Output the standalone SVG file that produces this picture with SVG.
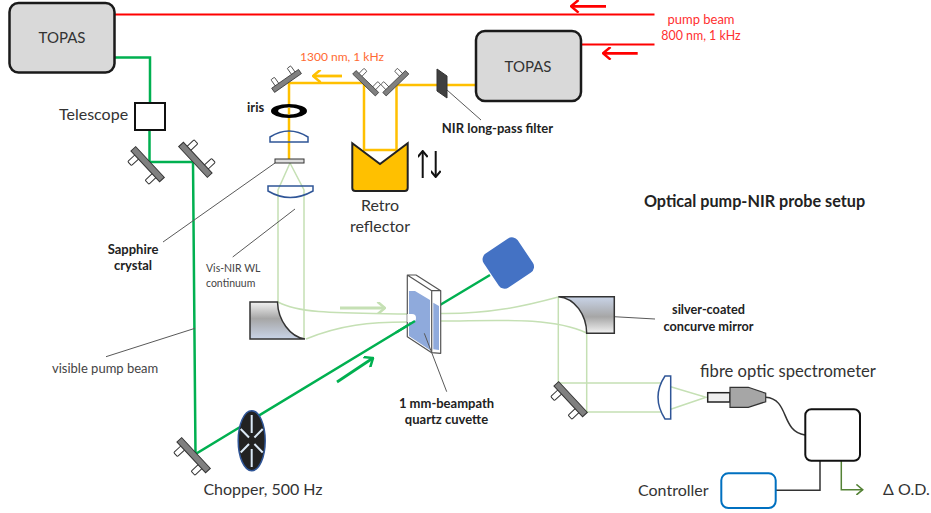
<svg xmlns="http://www.w3.org/2000/svg" width="931" height="513" viewBox="0 0 931 513">
<style>
text{font-family:"Lato","Open Sans","Liberation Sans",sans-serif;fill:#333}
.lg{font-size:16px}.b{font-size:13px;font-weight:700;fill:#222}.m{text-anchor:middle}
.n{font-size:10.5px;fill:#444}
.box{fill:#d9d9d9;stroke:#1a1a1a;stroke-width:2.5}
.beam{fill:none;stroke-linejoin:miter}
.red{stroke:#f00;stroke-width:2}.yel{stroke:#ffc000;stroke-width:2.5}.grn{stroke:#00b050;stroke-width:2.5}.wl{stroke:#c5e0b4;stroke-width:1.5}
.thick{stroke-width:2.8}
.lead{stroke:#595959;stroke-width:1;fill:none}
.lens{fill:none;stroke:#2f5597;stroke-width:1.5}
.wire{fill:none;stroke:#333;stroke-width:1.5}
.spoke{stroke:#dbe9f6;stroke-width:2}
.mb{fill:#808080;stroke:#333;stroke-width:1}.ml{fill:#fff;stroke:#333;stroke-width:1}
</style>
<defs>
<g id="mirror">
<rect class="ml" x="-15.5" y="5" width="5.5" height="11" rx="1"/>
<rect class="ml" x="10" y="5" width="5.5" height="11" rx="1"/>
<rect class="mb" x="-21" y="0" width="42" height="6.5"/>
</g>
<marker id="hR" viewBox="0 0 10 10" refX="9" refY="5" markerWidth="4.5" markerHeight="4.5" orient="auto" markerUnits="strokeWidth"><path d="M3,0L9,5L3,10" fill="none" stroke="#f00" stroke-width="2"/></marker>
<marker id="hY" viewBox="0 0 10 10" refX="9" refY="5" markerWidth="4.5" markerHeight="4.5" orient="auto" markerUnits="strokeWidth"><path d="M3,0L9,5L3,10" fill="none" stroke="#ffc000" stroke-width="2"/></marker>
<marker id="hL" viewBox="0 0 10 10" refX="9" refY="5" markerWidth="4.5" markerHeight="4.5" orient="auto" markerUnits="strokeWidth"><path d="M3,0L9,5L3,10" fill="none" stroke="#c5e0b4" stroke-width="2"/></marker>
<marker id="hG" viewBox="0 0 10 10" refX="9" refY="5" markerWidth="4.5" markerHeight="4.5" orient="auto" markerUnits="strokeWidth"><path d="M3,0L9,5L3,10" fill="none" stroke="#00b050" stroke-width="2"/></marker>
<marker id="hK" viewBox="0 0 10 10" refX="9" refY="5" markerWidth="5" markerHeight="5" orient="auto" markerUnits="strokeWidth"><path d="M3,0L9,5L3,10" fill="none" stroke="#111" stroke-width="2"/></marker>
<marker id="hO" viewBox="0 0 10 10" refX="9" refY="5" markerWidth="7" markerHeight="7" orient="auto" markerUnits="strokeWidth"><path d="M3,0L9,5L3,10" fill="none" stroke="#548235" stroke-width="1.5"/></marker>
<linearGradient id="gL" x1="0" y1="0" x2="0" y2="1"><stop offset="0" stop-color="#f2f2f2"/><stop offset=".45" stop-color="#a6a6a6"/><stop offset="1" stop-color="#c9d4e8"/></linearGradient>
<linearGradient id="gR" x1="0" y1="0" x2="0" y2="1"><stop offset="0" stop-color="#c9d4e8"/><stop offset=".55" stop-color="#a6a6a6"/><stop offset="1" stop-color="#f2f2f2"/></linearGradient>
</defs>

<g id="connectors">
<path class="beam red" d="M114,14.5H654.5M581,44.5H654.5"/>
<path class="beam red thick" d="M606,6.3H571" marker-end="url(#hR)"/>
<path class="beam red thick" d="M637.7,53.3H603" marker-end="url(#hR)"/>
<path class="beam grn" d="M114.5,57.5H150V103M149.5,130V162H193L195.5,454L415,321M440,305L490,275"/>
<path class="beam grn thick" d="M337,382L373,358" marker-end="url(#hG)"/>
<path class="beam yel" d="M476,85H396.5M396.5,85V150H364V83H289V159"/>
<path class="beam yel thick" d="M342,76H313" marker-end="url(#hY)"/>
<path class="beam wl" d="M290,163L304,190V339M290,163L278,190V302"/>
<path class="beam wl" d="M278,302C300,314 340,313 407,314M306,339C340,325 370,322 407,322"/>
<path class="beam wl thick" d="M340,308H385" marker-end="url(#hL)"/>
<path class="beam wl" d="M441,313.5C490,314 525,306 558.3,297M441,321C490,321 550,316 586.7,333"/>
<path class="beam wl" d="M558.3,297V383H661M586.7,333V412H661M670.7,386.7L706,397.3L670.7,409.3"/>
<path class="wire" d="M765.7,397.3C790,399 780,431 805,435"/>
<path class="wire" d="M775.7,490.3H820V460.7"/>
<path fill="none" stroke="#548235" stroke-width="1.5" d="M841.3,460.7V489.7H862.7" marker-end="url(#hO)"/>
<path class="lead" d="M275,163L163,242M295,209L232.7,257M195,328.3L106,356.7M447,90L481,120M601.7,316L655,319"/>
</g>

<g id="topas1"><rect class="box" x="9.5" y="3" width="105" height="69.5" rx="9"/><text class="m" font-size="15" x="62" y="43">TOPAS</text></g>
<g id="topas2"><rect class="box" x="476" y="31" width="105" height="70" rx="9"/><text class="m" font-size="15" x="528" y="72">TOPAS</text></g>
<g id="telescope"><rect x="135" y="103" width="30" height="27" fill="#fff" stroke="#111" stroke-width="2"/><text class="lg" x="59" y="120">Telescope</text></g>
<g id="mirror1"><use href="#mirror" transform="translate(150,162) rotate(47)"/></g>
<g id="mirror2"><use href="#mirror" transform="translate(193,162) rotate(-133)"/></g>
<g id="mirror3"><use href="#mirror" transform="translate(196,453) rotate(47)"/></g>
<g id="mirror4"><use href="#mirror" transform="translate(573,397) rotate(47)"/></g>
<g id="mirror5"><use href="#mirror" transform="translate(288,83) rotate(145) scale(.78)"/></g>
<g id="mirror6"><use href="#mirror" transform="translate(364,85) rotate(-136) scale(.75)"/></g>
<g id="mirror7"><use href="#mirror" transform="translate(397.5,85) rotate(136) scale(.75)"/></g>

<g id="filter"><path d="M437,69L447,76V98L437,91Z" fill="#404040" stroke="#333"/><text class="b m" x="497.5" y="133">NIR long-pass filter</text></g>
<g id="label1300"><text class="m" x="342" y="61" font-size="12" style="fill:#ff6a33">1300 nm, 1 kHz</text></g>
<g id="pumpbeam"><text class="m" x="701" y="24" font-size="13" style="fill:#ff3030">pump beam</text><text class="m" x="701" y="40" font-size="12.4" style="fill:#ff3030">800 nm, 1 kHz</text></g>
<g id="iris"><ellipse cx="289" cy="111" rx="18" ry="7" fill="#000"/><ellipse cx="289" cy="111" rx="11" ry="3.4" fill="#fff"/><path class="beam yel" d="M289,107.6V114.4"/><text class="b" x="247" y="112">iris</text></g>
<g id="lens1"><path class="lens" d="M270,142H308V137Q289,125 270,137Z"/></g>
<g id="sapphire"><rect x="275" y="159" width="29" height="4" fill="#ddd" stroke="#333"/><text class="b m" x="133" y="254">Sapphire</text><text class="b m" x="133" y="270">crystal</text></g>
<g id="lens2"><path class="lens" d="M268,186H313V191Q290,204 268,191Z"/></g>
<g id="wl-label"><text class="n" x="206" y="272">Vis-NIR WL</text><text class="n" x="206" y="287">continuum</text></g>
<g id="pump-label"><text class="n" style="font-size:13px" x="52" y="373">visible pump beam</text></g>
<g id="retro"><path d="M352.3,143.3L380,164L407.7,143.3V188Q407.7,191 404.7,191H355.3Q352.3,191 352.3,188Z" fill="#ffc000" stroke="#222" stroke-width="2"/><text class="lg m" x="380" y="211">Retro</text><text class="lg m" x="380" y="232">reflector</text></g>
<g id="retro-arrows" fill="none" stroke="#111" stroke-width="2"><path d="M422.7,178V151" marker-end="url(#hK)"/><path d="M435.7,151V177" marker-end="url(#hK)"/></g>
<g id="title"><text x="754.5" y="207" class="m" font-size="16.2" font-weight="700" style="fill:#222">Optical pump-NIR probe setup</text></g>
<g id="mirror-left"><path d="M250,302H277.5C278,320 290,337 305,339H250Z" fill="url(#gL)" stroke="#333" stroke-width="1.5"/></g>
<g id="cuvette">
<path d="M407.3,275L431.7,290.7V352.7L407.3,336.7Z M431.7,290.7H440.7V353.3L431.7,352.7Z M407.3,275H416L440.7,290.7H431.7Z" fill="#fff" stroke="#555" stroke-width="1.2" stroke-linejoin="round"/>
<path d="M409,291H415L430,300V350L409,336ZM433.3,302.7L439,306V350L433.3,349.3Z" fill="#8faadc"/>
<path d="M407.3,314H412A4,4 0 0 1 412,322H407.3Z" fill="#fff"/>
<path class="beam grn" d="M396,332.5L415,321"/>
<path class="lead" d="M424.3,333.3L446.7,391.7"/>
<text class="b m" x="446.5" y="408">1 mm-beampath</text><text class="b m" x="446.5" y="424">quartz cuvette</text>
</g>
<g id="detector"><rect x="-20.5" y="-20.5" width="41" height="41" rx="7" fill="#4472c4" transform="translate(508.3,263) rotate(-34)"/></g>
<g id="chopper"><ellipse cx="251.7" cy="440.7" rx="13.5" ry="30" fill="#222" stroke="#2f5597" stroke-width="1.5"/>
<path class="spoke" d="M251.7,415V433M251.7,449V467M240.7,429L249,437.5M262.7,429L254.4,437.5M240.7,452.5L249,444M262.7,452.5L254.4,444"/>
<text class="lg m" x="263" y="495">Chopper, 500 Hz</text></g>
<g id="mirror-right"><path d="M558.3,296.7H614.3V333.3H586.7C586.5,315 575,298 558.3,296.7Z" fill="url(#gR)" stroke="#333" stroke-width="1.5"/>
<text class="b m" style="font-size:12.7px" x="708.5" y="314">silver-coated</text><text class="b m" style="font-size:12.7px" x="708.5" y="331">concurve mirror</text></g>
<g id="lens3"><path class="lens" d="M670.7,376H665Q651,397 665,419H670.7Z"/></g>
<g id="fibre"><rect x="707.7" y="392.7" width="22.3" height="9.3" fill="#eee" stroke="#222" stroke-width="1.5"/>
<path d="M730,387.3H748.3L765.7,393.3V401.7L748.3,407.3H730Z" fill="#a6a6a6" stroke="#333" stroke-width="1.2"/>
<text class="m" x="788" y="377" font-size="16.6">fibre optic spectrometer</text></g>
<g id="spectrometer"><rect x="805.3" y="409.3" width="54.7" height="51.4" rx="6" fill="#fff" stroke="#111" stroke-width="2"/></g>
<g id="controller"><rect x="721.3" y="473.3" width="54.4" height="34.7" rx="7" fill="#fff" stroke="#0070c0" stroke-width="2"/><text class="lg" x="638" y="496">Controller</text></g>
<g id="od"><text class="lg" x="883" y="495">Δ O.D.</text></g>
</svg>
